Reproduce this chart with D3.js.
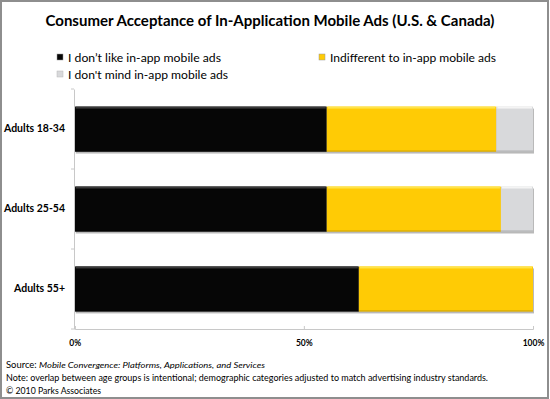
<html><head><meta http-equiv="Content-Type" content="text/html; charset=UTF-8"><title>In-app mobile ads</title>
<script src="https://cdn.jsdelivr.net/npm/d3@7"></script>
<style>
	body	{ margin:0; background:#fff; }
	svg	{ display:block; }
	text	{ font-family:Lato, "Open Sans", "DejaVu Sans", sans-serif; fill:#000; }
</style>
</head><body>
<svg width="550" height="399"></svg>
<script>
// data
var groups=["Adults 18-34","Adults 25-54","Adults 55+"];
var dislike=[55,55,62];
var indifferent=[37,38,38];
var dontMind=[8,7,0];
var seriesNames=["I don\u2019t like in-app mobile ads","Indifferent to in-app mobile ads","I don't mind in-app mobile ads"];
var seriesColors=["#060606","#ffcb05","#d8d9db"];
var seriesTops=["#3a3a3a","#ffe44a","#f4f4f4"];
var tickValues=[0,50,100];

var svg=d3.select('svg');
var W=550, H=399;

// frame
svg.append('rect').attr('x',1).attr('y',1).attr('width',W-3).attr('height',H-2)
	.attr('fill','#fff').attr('stroke','#8e8e8e').attr('stroke-width',2);

// title
svg.append('text').attr('x',270).attr('y',26).attr('text-anchor','middle')
	.attr('font-size',15).attr('font-weight','bold')
	.attr('textLength',449).attr('lengthAdjust','spacingAndGlyphs')
	.text('Consumer Acceptance of In-Application Mobile Ads (U.S. & Canada)');

// legend
var legendPos=[[57,58],[319,58],[57,75]];
var legendLen=[153,166,160];
seriesNames.forEach(function(n,i){
	var p=legendPos[i];
	svg.append('rect').attr('x',p[0]).attr('y',p[1]-4).attr('width',6).attr('height',6)
		.attr('fill',seriesColors[i]).attr('stroke',i==2?'#b8b8b8':'#999').attr('stroke-width',.5);
	svg.append('text').attr('x',p[0]+11).attr('y',p[1]+4).attr('font-size',11.5)
		.attr('textLength',legendLen[i]).attr('lengthAdjust','spacingAndGlyphs').text(n);
});

// scales
var x=d3.scaleLinear().domain([0,100]).range([74.7,533]);
var y=d3.scaleBand().domain(groups).range([89,329]).paddingInner(0.4375).paddingOuter(0.22);

// stacked rows
var rows=groups.map(function(g,i){return {g:g,v:[dislike[i],indifferent[i],dontMind[i]]};});
var stack=d3.stack().keys([0,1,2]).value(function(d,k){return d.v[k];});
var layers=stack(rows);

var plot=svg.append('g');
// shadow under each bar
plot.selectAll('rect.shadow').data(rows).enter().append('rect').attr('class','shadow')
	.attr('x',x(0)+1).attr('y',function(d){return y(d.g)+2;})
	.attr('width',function(d){return x(d3.sum(d.v))-x(0);})
	.attr('height',y.bandwidth()).attr('fill','#b9b9b9');

layers.forEach(function(layer,k){
	var seg=plot.selectAll('g.s'+k).data(layer.filter(function(d){return d[1]>d[0];})).enter()
		.append('g').attr('class','s'+k);
	seg.append('rect')
		.attr('x',function(d){return x(d[0]);})
		.attr('y',function(d){return y(d.data.g);})
		.attr('width',function(d){return x(d[1])-x(d[0]);})
		.attr('height',y.bandwidth()).attr('fill',seriesColors[k]);
	// bevel highlight on top, darker bottom edge
	seg.append('rect')
		.attr('x',function(d){return x(d[0])+1;})
		.attr('y',function(d){return y(d.data.g);})
		.attr('width',function(d){return x(d[1])-x(d[0])-2;})
		.attr('height',2).attr('fill',seriesTops[k]);
	seg.append('rect')
		.attr('x',function(d){return x(d[0]);})
		.attr('y',function(d){return y(d.data.g)+y.bandwidth()-1;})
		.attr('width',function(d){return x(d[1])-x(d[0]);})
		.attr('height',1).attr('fill',d3.color(seriesColors[k]).darker(0.6));
});

// category axis
var yAxis=svg.append('g').attr('transform','translate(74,0)')
	.call(d3.axisLeft(y).tickSize(0).tickPadding(9));
yAxis.select('.domain').attr('stroke','#c8c8c8');
yAxis.selectAll('text').attr('font-size',10.5).attr('font-weight','bold')
	.attr('font-family','Lato, "Open Sans", sans-serif');
// small ticks between categories
svg.selectAll('line.ct').data([89,169,249,329]).enter().append('line').attr('class','ct')
	.attr('x1',71).attr('x2',74).attr('y1',function(d){return d;}).attr('y2',function(d){return d;})
	.attr('stroke','#c8c8c8');

// value axis
var xAxis=svg.append('g').attr('transform','translate(0,329)')
	.call(d3.axisBottom(x).tickValues(tickValues).tickSize(-3).tickPadding(11)
		.tickFormat(function(d){return d+'%';}));
xAxis.select('.domain').attr('stroke','#c8c8c8');
xAxis.selectAll('line').attr('stroke','#c8c8c8');
xAxis.selectAll('text').attr('font-size',8.5).attr('font-weight','bold')
	.attr('font-family','Lato, "Open Sans", sans-serif');

// footer
var f=svg.append('g').attr('font-size',8.5).attr('fill','#222');
var s=f.append('text').attr('x',6).attr('y',368).attr('textLength',259).attr('lengthAdjust','spacingAndGlyphs');
s.append('tspan').text('Source: ');
s.append('tspan').attr('font-style','italic').text('Mobile Convergence: Platforms, Applications, and Services');
f.append('text').attr('x',6).attr('y',381).attr('textLength',482).attr('lengthAdjust','spacingAndGlyphs')
	.text('Note: overlap between age groups is intentional; demographic categories adjusted to match advertising industry standards.');
f.append('text').attr('x',6).attr('y',394).attr('textLength',95).attr('lengthAdjust','spacingAndGlyphs')
	.text('\u00a9 2010 Parks Associates');
</script>
</body></html>
